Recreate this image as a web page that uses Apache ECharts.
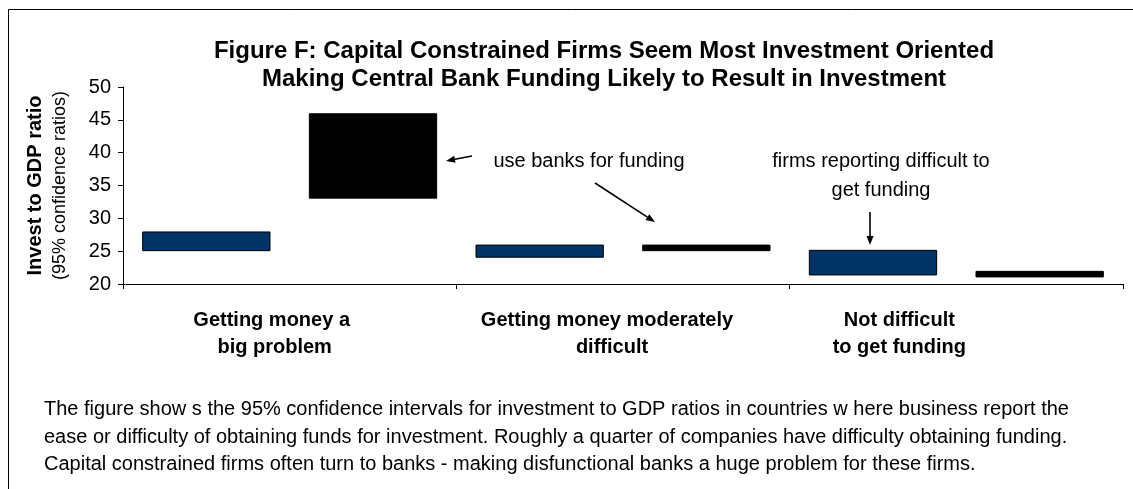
<!DOCTYPE html>
<html>
<head>
<meta charset="utf-8">
<script src="https://cdn.jsdelivr.net/npm/echarts@6/dist/echarts.min.js"></script>
<style>html,body{margin:0;padding:0;background:#fff}#c{width:1133px;height:489px}</style>
</head>
<body>
<div id="c"></div>
<script>
// ---- data ----
const categories = ['Getting money a\nbig problem', 'Getting money moderately\ndifficult', 'Not difficult\nto get funding'];
const allFirmsLow  = [25.0, 24.0, 21.3];
const allFirmsHigh = [28.0, 26.0, 25.2];
const bankUsersLow  = [33.0, 25.0, 21.0];
const bankUsersHigh = [46.0, 26.0, 22.0];
const yTicks = [20, 25, 30, 35, 40, 45, 50];
const titleLines = ['Figure F: Capital Constrained Firms Seem Most Investment Oriented', 'Making Central Bank Funding Likely to Result in Investment'];
const yNameBold = 'Invest to GDP ratio';
const yNameSub = '(95% confidence ratios)';
const noteBanks = 'use banks for funding';
const noteDifficult = 'firms reporting difficult to\nget funding';
const footerLines = [
  'The figure show s the 95% confidence intervals for investment to GDP ratios in countries w here business report the',
  'ease or difficulty of obtaining funds for investment. Roughly a quarter of companies have difficulty obtaining funding.',
  'Capital constrained firms often turn to banks - making disfunctional banks a huge problem for these firms.'
];

// ---- build slots: each category has two slots (all firms, bank users) ----
const slots = [], base = [], blueRange = [], blackRange = [];
categories.forEach((c, i) => {
  slots.push(c + '|all'); slots.push(c + '|banks');
  base.push(allFirmsLow[i]); base.push(bankUsersLow[i]);
  blueRange.push(+(allFirmsHigh[i] - allFirmsLow[i]).toFixed(2)); blueRange.push('-');
  blackRange.push('-'); blackRange.push(+(bankUsersHigh[i] - bankUsersLow[i]).toFixed(2));
});

const FONT = "'Liberation Sans', Arial, sans-serif";

function arrow(x1, y1, x2, y2) {
  const head = 9, half = 3.5;
  const a = Math.atan2(y2 - y1, x2 - x1);
  const bx = x2 - head * Math.cos(a), by = y2 - head * Math.sin(a);
  const px = -Math.sin(a) * half, py = Math.cos(a) * half;
  return [
    { type: 'line', shape: { x1: x1, y1: y1, x2: bx, y2: by }, style: { stroke: '#000', lineWidth: 1.6 }, silent: true },
    { type: 'polygon', shape: { points: [[x2, y2], [bx + px, by + py], [bx - px, by - py]] }, style: { fill: '#000' }, silent: true }
  ];
}

const labelStyles = [
  ['p0a', 'p0b'],
  ['p1a', 'p1b'],
  ['p2', 'p2']
];
const richBase = { fontFamily: FONT, fontSize: 20, fontWeight: 'bold', color: '#000', lineHeight: 27 };

const chart = echarts.init(document.getElementById('c'), null, { renderer: 'canvas' });
chart.setOption({
  animation: false,
  backgroundColor: '#fff',
  title: {
    text: titleLines.join('\n'),
    left: 604, top: 37, textAlign: 'center', padding: 0,
    textStyle: { fontFamily: FONT, fontSize: 24, fontWeight: 'bold', color: '#000', lineHeight: 28 }
  },
  grid: { left: 123, right: 10, top: 87, bottom: 205, containLabel: false },
  xAxis: [
    {
      type: 'category', data: slots,
      axisLine: { lineStyle: { color: '#000', width: 1 } },
      axisTick: { show: true, length: 5, lineStyle: { color: '#000' } },
      axisLabel: { show: false },
      splitLine: { show: false }
    },
    {
      type: 'category', data: categories, position: 'bottom', gridIndex: 0,
      axisLine: { show: false }, axisTick: { show: false }, splitLine: { show: false },
      axisLabel: {
        interval: 0, margin: 23,
        formatter: function (v, i) {
          return v.split('\n').map((ln, k) => '{' + labelStyles[i][k] + '|' + ln + '}').join('\n');
        },
        rich: {
          p0a: Object.assign({}, richBase, { padding: [0, 36, 0, 0] }),
          p0b: Object.assign({}, richBase, { padding: [0, 30, 0, 0] }),
          p1a: Object.assign({}, richBase, { padding: [0, 32, 0, 0] }),
          p1b: Object.assign({}, richBase, { padding: [0, 22, 0, 0] }),
          p2: Object.assign({}, richBase, { padding: [0, 114, 0, 0] })
        }
      }
    }
  ],
  yAxis: {
    type: 'value', min: 20, max: 50, interval: 5,
    axisLine: { show: true, lineStyle: { color: '#000', width: 1 } },
    axisTick: { show: true, length: 5, lineStyle: { color: '#000' } },
    axisLabel: { fontFamily: FONT, fontSize: 20, color: '#000', margin: 12 },
    splitLine: { show: false },
    name: '{a|' + yNameBold + '}\n{b|' + yNameSub + '}',
    nameLocation: 'middle', nameRotate: 90, nameGap: 50,
    nameTextStyle: {
      rich: {
        a: { fontFamily: FONT, fontSize: 20, fontWeight: 'bold', color: '#000', lineHeight: 25 },
        b: { fontFamily: FONT, fontSize: 18, color: '#000', lineHeight: 25 }
      }
    }
  },
  series: [
    { name: 'base', type: 'bar', stack: 'r', data: base, barWidth: '77%', itemStyle: { color: 'transparent' }, silent: true },
    { name: 'All firms', type: 'bar', stack: 'r', data: blueRange, barWidth: '77%', itemStyle: { color: '#003366', borderColor: '#000', borderWidth: 1 } },
    { name: 'Use banks for funding', type: 'bar', stack: 'r', data: blackRange, barWidth: '77%', itemStyle: { color: '#000', borderColor: '#000', borderWidth: 1 } }
  ],
  graphic: [
    { type: 'rect', shape: { x: 8.5, y: 9.5, width: 1300, height: 700 }, style: { fill: 'none', stroke: '#000', lineWidth: 1 }, silent: true, z: 100 },
    { type: 'text', x: 589, y: 161, style: { text: noteBanks, font: '20px ' + FONT, fill: '#000', textAlign: 'center', textVerticalAlign: 'middle' }, silent: true },
    { type: 'text', x: 881, y: 176, style: { text: noteDifficult, font: '20px ' + FONT, fill: '#000', textAlign: 'center', textVerticalAlign: 'middle', lineHeight: 29 }, silent: true },
    ...arrow(472, 156, 446, 161),
    ...arrow(595, 183, 655, 222),
    ...arrow(870, 212, 870, 245),
    { type: 'text', x: 44, y: 396, style: { text: footerLines.join('\n'), font: '20px ' + FONT, fill: '#000', textAlign: 'left', textVerticalAlign: 'top', lineHeight: 27.5 }, silent: true }
  ]
});
</script>
</body>
</html>
